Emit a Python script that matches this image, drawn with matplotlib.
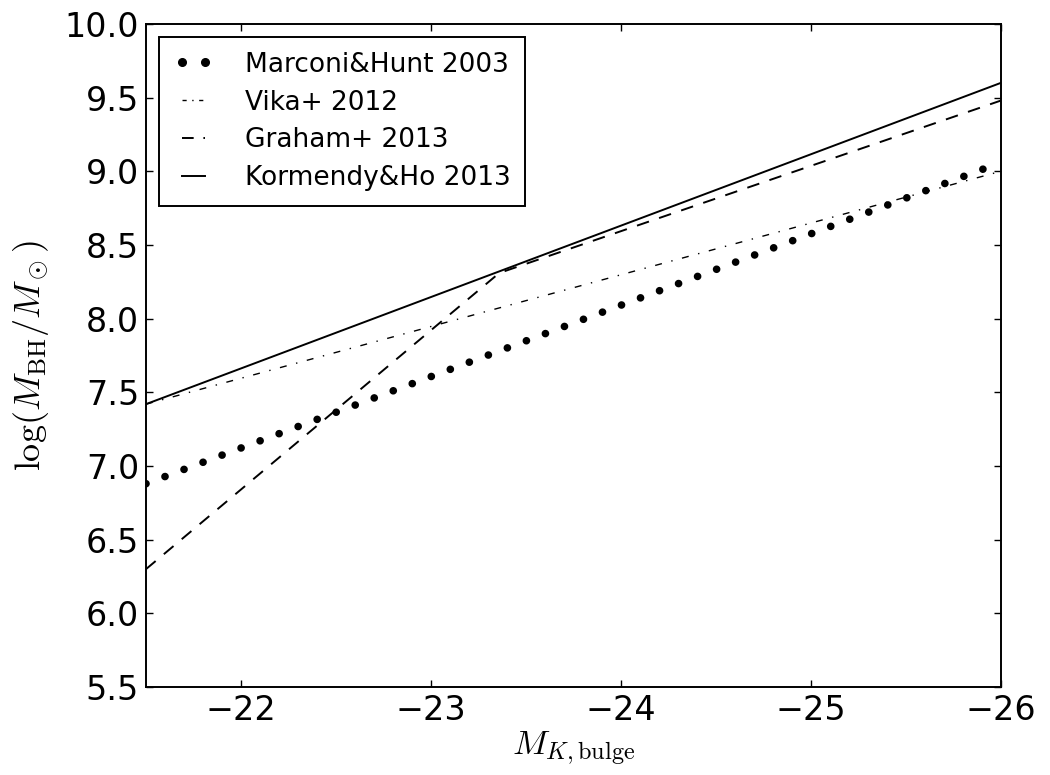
import matplotlib
matplotlib.use("Agg")
import matplotlib.pyplot as plt
from matplotlib.lines import Line2D

plt.rcParams['mathtext.fontset'] = 'cm'
plt.rcParams['font.family'] = 'DejaVu Sans'

# K-band bulge magnitude range and the scaling relations evaluated on it
mk_ends = [-21.5, -26.0]
marconi = [6.88, 9.06]
vika = [7.42, 9.00]
kormendy = [7.42, 9.60]

# Graham+ 2013 is a broken relation (Sersic / core-Sersic)
graham_mk = [-21.5, -23.36, -26.0]
graham = [6.30, 8.31, 9.48]

labels = ['Marconi&Hunt 2003', 'Vika+ 2012', 'Graham+ 2013', 'Kormendy&Ho 2013']

fig = plt.figure(figsize=(10.5, 7.75), dpi=100)
ax = fig.add_axes([0.139, 0.1135, 0.814, 0.8555])

# big round dots
ax.plot(mk_ends, marconi, color='k', lw=5.5, ls=(0, (0.01, 2.65)),
        dash_capstyle='round')
ax.plot(mk_ends, vika, color='k', lw=1.0, ls=(0, (5, 7, 1, 7)))
ax.plot(graham_mk, graham, color='k', lw=1.4, ls=(0, (6.5, 5.5)))
ax.plot(mk_ends, kormendy, color='k', lw=1.4, ls='-')

ax.set_xlim(-21.5, -26)
ax.set_ylim(5.5, 10.0)
ax.set_xticks([-22, -23, -24, -25, -26])
ax.set_yticks([5.5, 6.0, 6.5, 7.0, 7.5, 8.0, 8.5, 9.0, 9.5, 10.0])
ax.set_yticklabels(['5.5', '6.0', '6.5', '7.0', '7.5', '8.0', '8.5', '9.0', '9.5', '10.0'])

ax.tick_params(direction='in', top=True, right=True, length=5, width=1,
               labelsize=24, pad=5)
for sp in ax.spines.values():
    sp.set_linewidth(1.4)

ax.set_xlabel(r'$M_{K,\rm bulge}$', fontsize=25, labelpad=2)
ax.set_ylabel(r'$\log(M_{\rm BH}/M_\odot)$', fontsize=26, labelpad=10)

# legend handles use shorter patterns so each one fits in the box
handles = [
    Line2D([], [], color='k', marker='o', ms=5.5, ls='none'),
    Line2D([], [], color='k', lw=1.0, ls=(0, (3, 4, 1, 4))),
    Line2D([], [], color='k', lw=1.4, ls=(0, (6, 5))),
    Line2D([], [], color='k', lw=1.4, ls='-'),
]
leg = ax.legend(handles, labels, loc='upper left', fontsize=19, numpoints=2,
                handlelength=1.5, handletextpad=1.2, labelspacing=0.45,
                borderpad=0.55, borderaxespad=0.5, fancybox=False,
                edgecolor='k', framealpha=1)
leg.get_frame().set_linewidth(1.4)

fig.savefig('out.png', dpi=100, facecolor='white')
